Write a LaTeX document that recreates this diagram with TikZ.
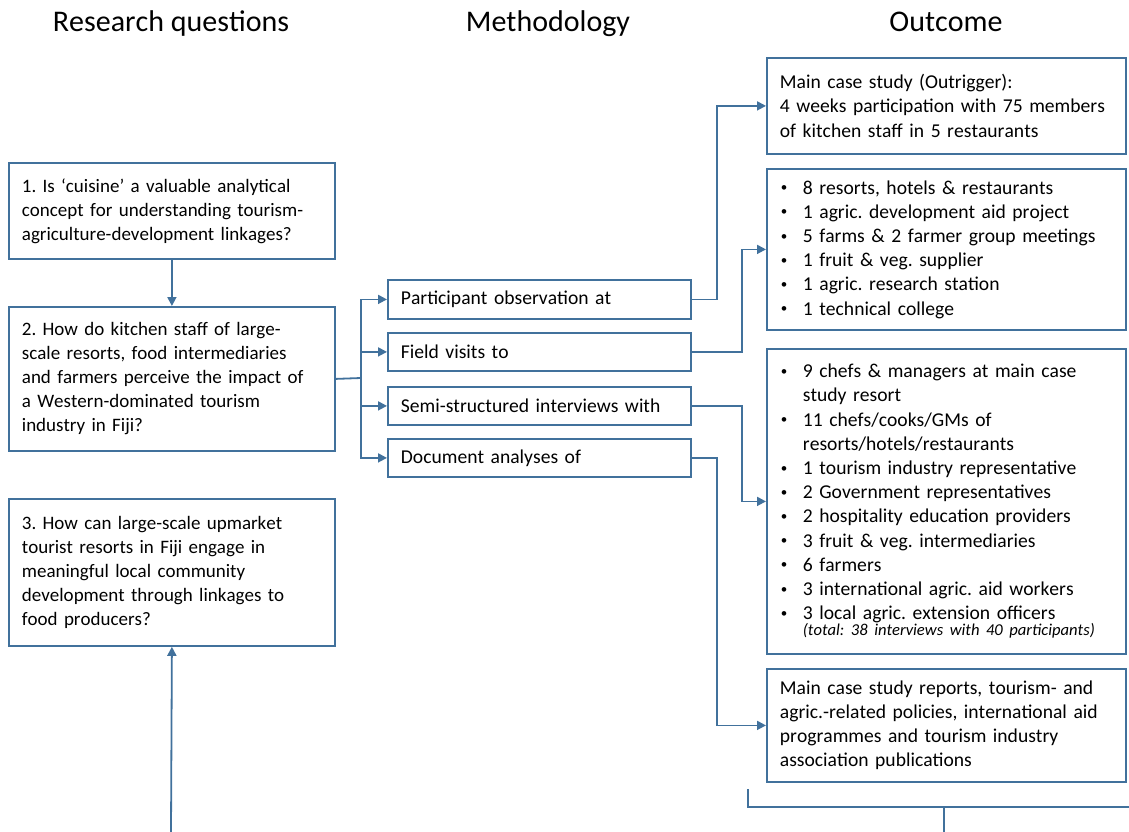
\documentclass[tikz,border=0pt]{standalone}
\usepackage{fontspec}
\setmainfont{Carlito}[Kerning=Off]
\usetikzlibrary{arrows.meta}
\definecolor{edge}{HTML}{41719C}
\newcommand\bdot{\raisebox{2.4pt}{\fontsize{13}{13}\selectfont\textbullet}}
\newcommand\bitem[1]{\makebox[23pt][l]{\hspace*{1pt}\bdot}#1}
\newcommand\bcont[1]{\hspace*{23pt}#1}
\frenchspacing
\begin{document}
\begin{tikzpicture}[x=1pt,y=-1pt,
  title/.style={font=\fontsize{30}{34}\selectfont, anchor=base, inner sep=0pt},
  box/.style={draw=edge, line width=1.8pt, anchor=north west, align=left,
    inner xsep=13pt, inner ysep=0pt, font=\fontsize{19}{24}\selectfont},
  wbox/.style={box, font=\fontsize{19.6}{24.2}\selectfont},
  link/.style={draw=edge, line width=1.8pt},
  arr/.style={link, -{Triangle[length=9pt,width=9pt]}}]
\useasboundingbox (0,0) rectangle (1129,832);

% column headings
\node[title] (h1) at (171,32) {Research questions};
\node[title] (h2) at (548,32) {Methodology};
\node[title] (h3) at (946,32) {Outcome};

% research questions
\node[box, text width=300pt, minimum height=96pt] (q1) at (8,162)
  {1. Is ‘cuisine’ a valuable analytical\\concept for understanding tourism-\\agriculture-development linkages?};
\node[box, text width=300pt, minimum height=144pt] (q2) at (8,306)
  {2. How do kitchen staff of large-\\scale resorts, food intermediaries\\and farmers perceive the impact of\\a Western-dominated tourism\\industry in Fiji?};
\node[box, text width=300pt, minimum height=147pt] (q3) at (8,498)
  {3. How can large-scale upmarket\\tourist resorts in Fiji engage in\\meaningful local community\\development through linkages to\\food producers?};

% methods
\node[wbox, text width=277pt, minimum height=39pt] (m1) at (387,279) {Participant observation at};
\node[wbox, text width=277pt, minimum height=38pt] (m2) at (387,332) {Field visits to};
\node[wbox, text width=277pt, minimum height=38pt] (m3) at (387,386) {Semi-structured interviews with};
\node[wbox, text width=277pt, minimum height=38pt] (m4) at (387,438) {Document analyses of};

% outcomes
\node[wbox, text width=333pt, minimum height=96pt] (o1) at (766,57)
  {Main case study (Outrigger):\\4 weeks participation with 75 members\\of kitchen staff in 5 restaurants};
\node[wbox, text width=333pt, minimum height=161pt] (o2) at (766,168)
  {\bitem{8 resorts, hotels \& restaurants}\\
   \bitem{1 agric. development aid project}\\
   \bitem{5 farms \& 2 farmer group meetings}\\
   \bitem{1 fruit \& veg. supplier}\\
   \bitem{1 agric. research station}\\
   \bitem{1 technical college}};
\node[wbox, text width=333pt, minimum height=305pt] (o3) at (766,348)
  {\bitem{9 chefs \& managers at main case}\\
   \bcont{study resort}\\
   \bitem{11 chefs/cooks/GMs of}\\
   \bcont{resorts/hotels/restaurants}\\
   \bitem{1 tourism industry representative}\\
   \bitem{2 Government representatives}\\
   \bitem{2 hospitality education providers}\\
   \bitem{3 fruit \& veg. intermediaries}\\
   \bitem{6 farmers}\\
   \bitem{3 international agric. aid workers}\\
   \bitem{3 local agric. extension officers}\\[-8pt]
   \bcont{\fontsize{16.6}{17}\selectfont\itshape (total: 38 interviews with 40 participants)}};
\node[wbox, text width=333pt, minimum height=113pt] (o4) at (766,668)
  {Main case study reports, tourism- and\\agric.-related policies, international aid\\programmes and tourism industry\\association publications};

% links between the research questions
\draw[arr] (q1.south) -- (q2.north);
\coordinate (qin) at (171,832);
\draw[arr] (qin) -- (q3.south);

% branching from question 2 to the methods
\coordinate (br) at (361,378);
\draw[link] (q2.east) -- (br);
\draw[arr] (br) |- (m1.west);
\draw[arr] (br) |- (m2.west);
\draw[arr] (br) |- (m3.west);
\draw[arr] (br) |- (m4.west);

% methods to outcomes
\draw[arr] (m1.east) -- ++(25,0) |- (o1.west);
\draw[arr] (m2.east) -- ++(50,0) |- (o2.west);
\draw[arr] (m3.east) -- ++(50,0) |- (o3.west);
\draw[arr] (m4.east) -- ++(25,0) |- (o4.west);

% bracket under the outcomes
\coordinate (ba) at (748,789);
\coordinate (bb) at (748,807);
\coordinate (bc) at (1129,807);
\coordinate (bd) at (944,807);
\coordinate (be) at (944,832);
\draw[link] (ba) -- (bb) -- (bc);
\draw[link] (bd) -- (be);
\end{tikzpicture}
\end{document}
